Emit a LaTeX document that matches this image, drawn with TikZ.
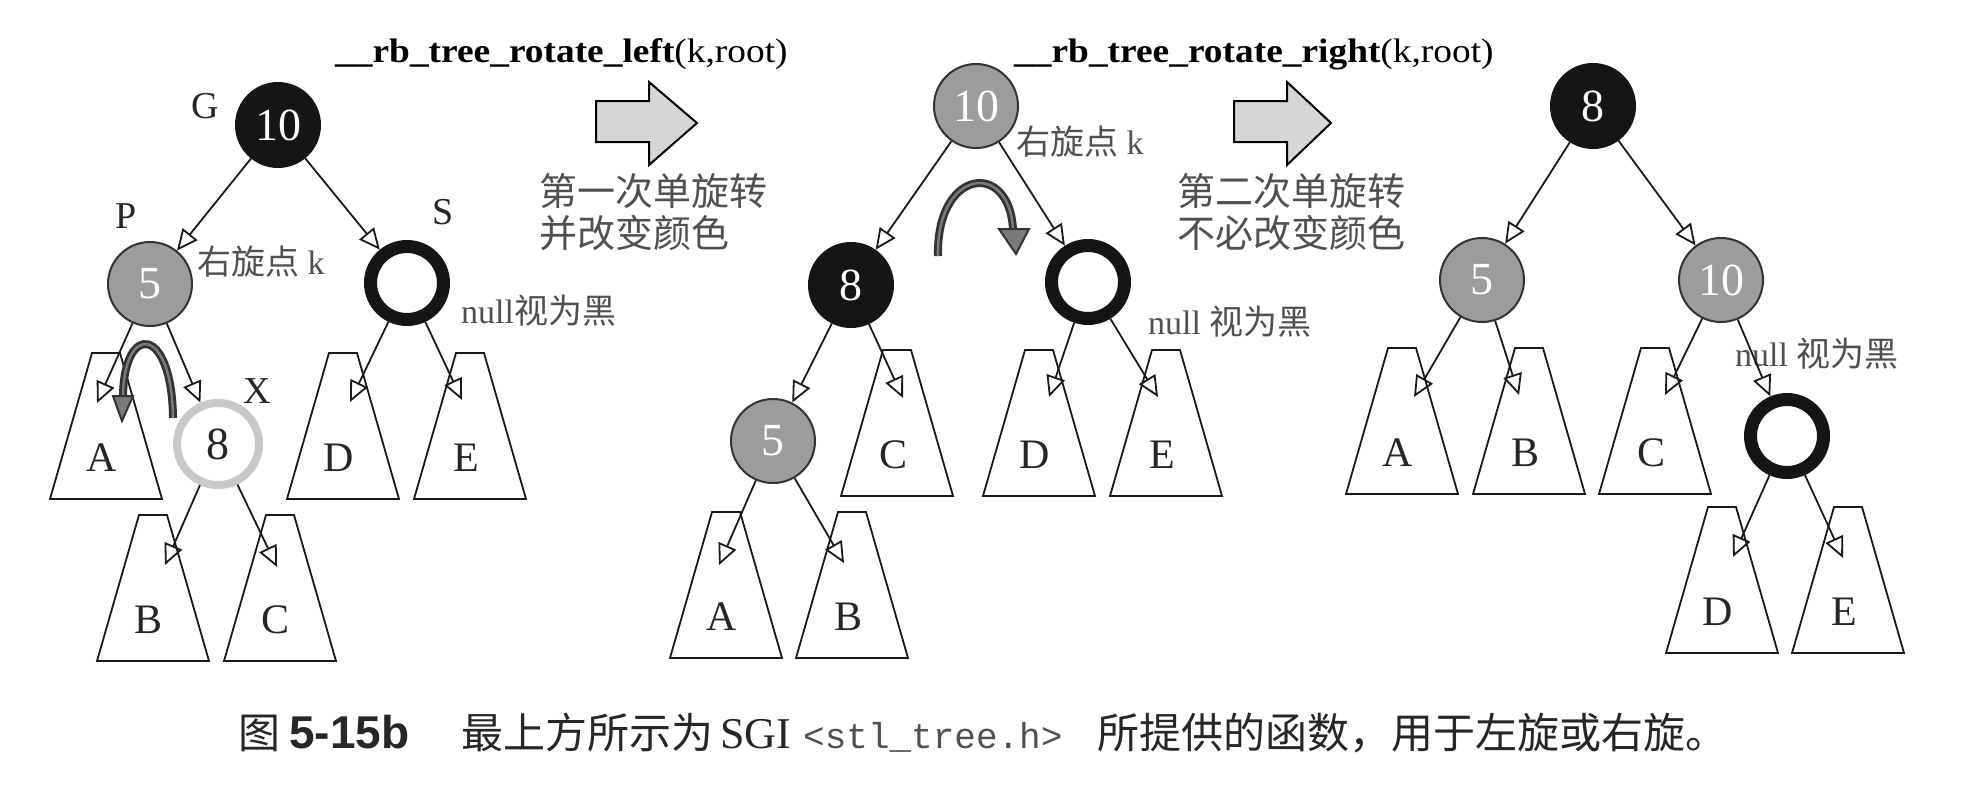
\documentclass[tikz,border=0pt]{standalone}
\usepackage{fontspec}
\usepackage{graphicx}
\setmainfont{Liberation Serif}
\setsansfont{Liberation Sans}
\setmonofont{Liberation Mono}
\newfontfamily\cjk{Noto Sans CJK SC}
\usetikzlibrary{arrows.meta}
\definecolor{nodeblack}{HTML}{151515}
\definecolor{nodegray}{HTML}{9C9C9C}
\definecolor{xring}{HTML}{C8C8C8}
\definecolor{txtgray}{HTML}{505050}
\definecolor{arrowfill}{HTML}{D6D6D6}
\definecolor{curvedark}{HTML}{333333}
\definecolor{curvegray}{HTML}{7A7A7A}
\newcommand\trapz[4]{%
  \draw[trapline] (#2-14,#3) -- (#2+14,#3) -- (#2+56,#3+146) -- (#2-56,#3+146) -- cycle;
  \node[letter] (#1) at (#2-4,#3+105) {#4};}
\begin{document}
\begin{tikzpicture}[x=1pt,y=-1pt,
  numfont/.style={font=\fontsize{46}{46}\selectfont},
  blk/.style={circle, fill=nodeblack, draw=nodeblack, line width=2pt, minimum size=84pt, inner sep=0pt, text=white, numfont},
  gry/.style={circle, fill=nodegray, draw=curvedark, line width=2pt, minimum size=84pt, inner sep=0pt, text=white, numfont},
  nul/.style={circle, draw=nodeblack, line width=13pt, fill=white, minimum size=73pt, inner sep=0pt},
  xnode/.style={circle, draw=xring, line width=8pt, fill=white, minimum size=82pt, inner sep=0pt, text=black!85, numfont},
  edge/.style={line width=1.8pt, draw=black!90, -{Triangle[open, length=21pt, width=19pt]}},
  trapline/.style={draw=black!90, line width=1.8pt, fill=white},
  letter/.style={font=\fontsize{42}{42}\selectfont, text=black!85},
  lab/.style={font=\fontsize{38}{38}\selectfont, text=black!85},
  note/.style={font=\fontsize{34}{34}\selectfont, text=txtgray, inner sep=0pt},
  step2/.style={font=\cjk\fontsize{38}{38}\selectfont, text=txtgray, inner sep=0pt, anchor=base west},
  title/.style={font=\fontsize{34}{34}\selectfont, text=black, inner sep=0pt, anchor=base west},
  blockarrow/.style={draw=black, line width=2pt, fill=arrowfill, line join=miter},
  curveouter/.style={draw=curvedark, line width=8pt},
  curveinner/.style={draw=curvegray, line width=2.5pt},
  curvehead/.style={fill=curvegray, draw=curvedark, line width=2pt, line join=miter}
]
\fill[white] (0,0) rectangle (1988,806);
\useasboundingbox (0,0) rectangle (1988,806);

% titles
\node[title] (title1) at (335,62) {\scalebox{1.1}[1]{{\bfseries \_\_rb\_tree\_rotate\_left}(k,root)}};
\node[title] (title2) at (1014,62) {\scalebox{1.1}[1]{{\bfseries \_\_rb\_tree\_rotate\_right}(k,root)}};

% block arrows
\draw[blockarrow] (596,101) -- (649,101) -- (649,82) -- (697,123) -- (649,165) -- (649,142) -- (596,142) -- cycle;
\draw[blockarrow] (1234,101) -- (1287,101) -- (1287,82) -- (1331,123) -- (1287,165) -- (1287,142) -- (1234,142) -- cycle;
\node[step2] (s1a) at (539,205) {第一次单旋转};
\node[step2] (s1b) at (539,247) {并改变颜色};
\node[step2] (s2a) at (1177,205) {第二次单旋转};
\node[step2] (s2b) at (1177,247) {不必改变颜色};

% ---------------- tree 1 ----------------
\trapz{t1A}{106}{353}{A}
\trapz{t1D}{343}{353}{D}
\trapz{t1E}{470}{353}{E}
\trapz{t1B}{153}{515}{B}
\trapz{t1C}{280}{515}{C}
\node[blk] (t1G) at (278,125) {10};
\node[gry] (t1P) at (150,284) {5};
\node[nul] (t1S) at (407,283) {};
\node[xnode] (t1X) at (218,444) {8};
\node[lab] (lG) at (205,106) {G};
\node[lab] (lP) at (126,216) {P};
\node[lab] (lS) at (443,212) {S};
\node[lab] (lX) at (257,391) {X};
\node[note, anchor=base west] (k1) at (197,274) {{\cjk 右旋点} k};
\node[note, anchor=base west] (n1) at (461,323) {null{\cjk 视为黑}};
\coordinate (t1Aa) at (97,403);
\coordinate (t1Da) at (350,402);
\coordinate (t1Ea) at (462,400);
\coordinate (t1Ba) at (165,565);
\coordinate (t1Ca) at (277,567);
\draw[edge] (t1G) -- (t1P);
\draw[edge] (t1G) -- (t1S);
\draw[edge] (t1P) -- (t1Aa);
\draw[edge] (t1P) -- (t1X);
\draw[edge] (t1S) -- (t1Da);
\draw[edge] (t1S) -- (t1Ea);
\draw[edge] (t1X) -- (t1Ba);
\draw[edge] (t1X) -- (t1Ca);
% curved rotation arrow 1
\coordinate (c1s) at (173,418);
\coordinate (c1e) at (123,396);
\draw[curveouter] (c1s) .. controls (172,325) and (124,322) .. (c1e);
\draw[curveinner] (c1s) .. controls (172,325) and (124,322) .. (c1e);
\draw[curvehead] (113,396) -- (133,396) -- (122,421) -- cycle;

% ---------------- tree 2 ----------------
\trapz{t2C}{897}{350}{C}
\trapz{t2D}{1039}{350}{D}
\trapz{t2E}{1166}{350}{E}
\trapz{t2A}{726}{512}{A}
\trapz{t2B}{852}{512}{B}
\node[gry] (t2R) at (976,106) {10};
\node[blk] (t2K) at (851,285) {8};
\node[nul] (t2N) at (1088,282) {};
\node[gry] (t2F) at (773,441) {5};
\node[note, anchor=base west] (k2) at (1016,154) {{\cjk 右旋点} k};
\node[note, anchor=base west] (n2) at (1148,334) {null {\cjk 视为黑}};
\coordinate (t2Ca) at (903,398);
\coordinate (t2Da) at (1049,397);
\coordinate (t2Ea) at (1158,397);
\coordinate (t2Aa) at (719,565);
\coordinate (t2Ba) at (844,563);
\draw[edge] (t2R) -- (t2K);
\draw[edge] (t2R) -- (t2N);
\draw[edge] (t2K) -- (t2F);
\draw[edge] (t2K) -- (t2Ca);
\draw[edge] (t2N) -- (t2Da);
\draw[edge] (t2N) -- (t2Ea);
\draw[edge] (t2F) -- (t2Aa);
\draw[edge] (t2F) -- (t2Ba);
% curved rotation arrow 2
\coordinate (c2s) at (938,256);
\coordinate (c2e) at (1013,230);
\draw[curveouter] (c2s) .. controls (936,168) and (1010,160) .. (c2e);
\draw[curveinner] (c2s) .. controls (936,168) and (1010,160) .. (c2e);
\draw[curvehead] (999,229) -- (1029,229) -- (1016,254) -- cycle;

% ---------------- tree 3 ----------------
\trapz{t3A}{1402}{348}{A}
\trapz{t3B}{1529}{348}{B}
\trapz{t3C}{1655}{348}{C}
\trapz{t3D}{1722}{507}{D}
\trapz{t3E}{1848}{507}{E}
\node[blk] (t3R) at (1593,106) {8};
\node[gry] (t3F) at (1482,280) {5};
\node[gry] (t3T) at (1721,280) {10};
\node[nul] (t3N) at (1787,436) {};
\node[note, anchor=base west] (n3) at (1735,366) {null {\cjk 视为黑}};
\coordinate (t3Aa) at (1414,397);
\coordinate (t3Ba) at (1519,395);
\coordinate (t3Ca) at (1665,395);
\coordinate (t3Da) at (1733,557);
\coordinate (t3Ea) at (1843,558);
\draw[edge] (t3R) -- (t3F);
\draw[edge] (t3R) -- (t3T);
\draw[edge] (t3F) -- (t3Aa);
\draw[edge] (t3F) -- (t3Ba);
\draw[edge] (t3T) -- (t3Ca);
\draw[edge] (t3T) -- (t3N);
\draw[edge] (t3N) -- (t3Da);
\draw[edge] (t3N) -- (t3Ea);

% caption
\node[anchor=base west, inner sep=0pt, text=black!85] (caption) at (238,748) {%
\makebox[51pt][l]{\cjk\fontsize{42}{42}\selectfont 图}%
\makebox[172pt][l]{\sffamily\bfseries\fontsize{46}{46}\selectfont 5-15b}%
\makebox[259pt][l]{\cjk\fontsize{42}{42}\selectfont 最上方所示为}%
\makebox[83pt][l]{\fontsize{44}{44}\selectfont SGI}%
\makebox[294pt][l]{\ttfamily\fontsize{36}{36}\selectfont\color{txtgray}<stl\_tree.h>}%
{\cjk\fontsize{42}{42}\selectfont 所提供的函数，用于左旋或右旋。}};
\end{tikzpicture}
\end{document}
